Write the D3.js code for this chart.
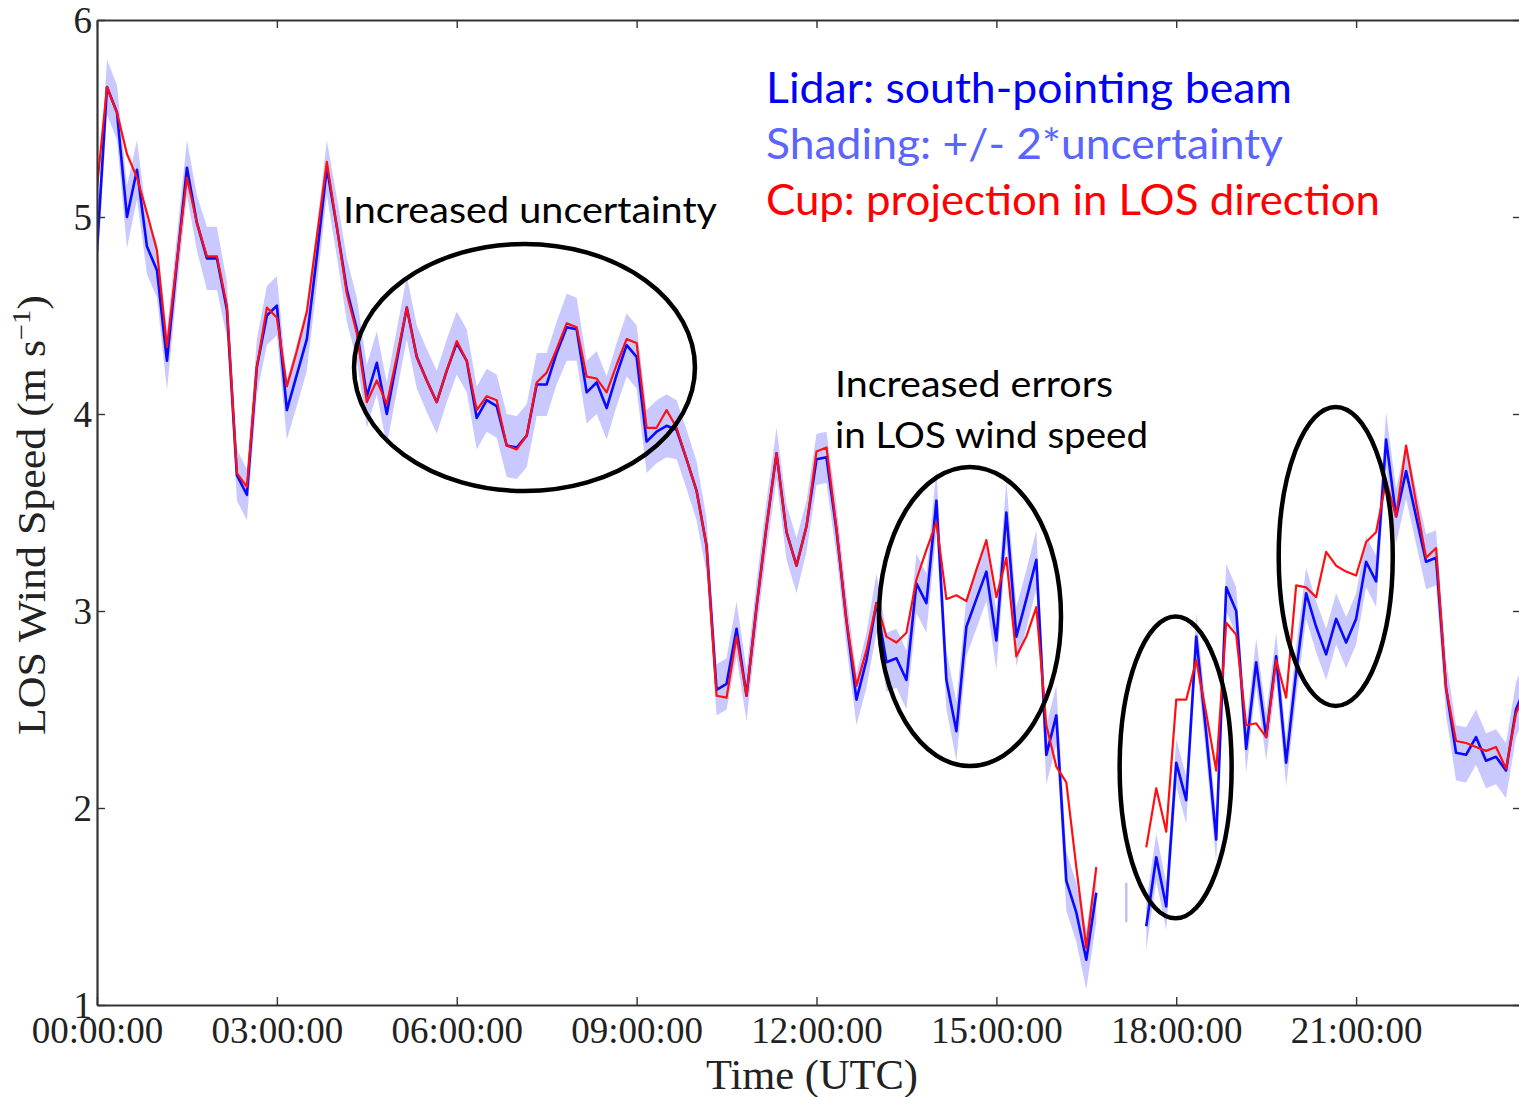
<!DOCTYPE html>
<html><head><meta charset="utf-8">
<script src="https://cdn.jsdelivr.net/npm/d3@7"></script>
<style>body{margin:0;background:#fff;overflow:hidden;} svg{display:block;}</style>
</head><body>
<svg id="chart" width="1519" height="1097"></svg>
<script>
// ---------- data ----------
const startTime = "2016-01-01T00:00:00Z";
const stepMinutes = 10;   // sampling interval of the series
const lidar = [4.83,5.66,5.53,5.00,5.24,4.85,4.73,4.27,4.77,5.25,
 4.97,4.79,4.79,4.53,3.69,3.59,4.24,4.50,4.55,4.02,
 4.20,4.38,4.80,5.25,4.95,4.63,4.43,4.09,4.26,4.00,
 4.27,4.54,4.29,4.17,4.06,4.22,4.36,4.27,3.98,4.07,
 4.04,3.84,3.83,3.89,4.15,4.15,4.31,4.44,4.43,4.11,
 4.16,4.03,4.20,4.35,4.29,3.86,3.91,3.94,3.92,3.77,
 3.61,3.33,2.60,2.63,2.91,2.57,3.02,3.43,3.80,3.40,
 3.23,3.43,3.77,3.78,3.41,2.95,2.55,2.75,3.04,2.74,
 2.76,2.65,3.14,3.04,3.56,2.65,2.39,2.92,3.06,3.20,
 2.85,3.50,2.87,3.06,3.26,2.27,2.47,1.63,1.47,1.23,
 1.57,null,null,1.52,null,1.40,1.75,1.50,2.23,2.04,
 2.87,2.38,1.84,3.12,3.00,2.30,2.74,2.36,2.77,2.23,
 2.69,3.09,2.92,2.78,2.96,2.84,2.96,3.25,3.15,3.87,
 3.48,3.71,3.48,3.25,3.27,2.61,2.28,2.27,2.36,2.24,
 2.26,2.19,2.50,2.62];
const cup = [5.15,5.66,5.53,5.32,5.20,5.02,4.83,4.34,4.78,5.20,
 4.97,4.80,4.80,4.55,3.70,3.63,4.24,4.54,4.49,4.14,
 4.32,4.52,4.90,5.28,4.95,4.61,4.41,4.06,4.17,4.05,
 4.29,4.54,4.29,4.17,4.06,4.22,4.37,4.27,4.02,4.09,
 4.07,3.84,3.82,3.89,4.16,4.21,4.33,4.46,4.44,4.19,
 4.18,4.11,4.25,4.38,4.36,3.93,3.93,4.02,3.93,3.77,
 3.61,3.33,2.57,2.56,2.87,2.57,3.02,3.43,3.80,3.40,
 3.23,3.43,3.81,3.83,3.42,2.95,2.62,2.80,3.04,2.87,
 2.84,2.89,3.16,3.31,3.45,3.06,3.08,3.05,3.21,3.36,
 3.07,3.27,2.77,2.87,3.02,2.42,2.21,2.13,1.70,1.29,
 1.70,null,null,null,null,1.80,2.10,1.88,2.55,2.55,
 2.75,2.48,2.19,2.94,2.88,2.42,2.43,2.36,2.75,2.56,
 3.13,3.12,3.07,3.30,3.23,3.20,3.18,3.35,3.40,3.66,
 3.48,3.84,3.55,3.27,3.32,2.61,2.34,2.33,2.31,2.29,
 2.31,2.20,2.48,2.60];
const uncertainty = [0.07,0.07,0.07,0.08,0.075,0.07,0.07,0.075,0.07,0.07,
 0.07,0.08,0.08,0.07,0.065,0.065,0.07,0.075,0.075,0.075,
 0.08,0.08,0.075,0.07,0.075,0.08,0.08,0.08,0.08,0.08,
 0.08,0.08,0.08,0.08,0.08,0.08,0.08,0.08,0.08,0.08,
 0.08,0.08,0.08,0.08,0.08,0.08,0.08,0.085,0.08,0.08,
 0.08,0.08,0.08,0.08,0.08,0.08,0.08,0.08,0.075,0.075,
 0.075,0.07,0.065,0.065,0.07,0.065,0.065,0.065,0.065,0.07,
 0.07,0.065,0.065,0.065,0.065,0.065,0.065,0.07,0.075,0.075,
 0.075,0.075,0.075,0.075,0.08,0.075,0.075,0.075,0.075,0.075,
 0.075,0.08,0.075,0.075,0.075,0.075,0.075,0.075,0.075,0.075,
 0.075,null,null,0.05,null,0.06,0.06,0.06,0.06,0.06,
 0.06,0.06,0.06,0.06,0.06,0.06,0.06,0.06,0.06,0.06,
 0.065,0.065,0.065,0.065,0.065,0.065,0.065,0.065,0.065,0.07,
 0.07,0.07,0.07,0.07,0.07,0.07,0.07,0.07,0.07,0.07,
 0.07,0.07,0.07,0.07];
const xTickHours = [0, 3, 6, 9, 12, 15, 18, 21];
const xDomainHours = [0, 23.75];
const yDomain = [1, 6];
const yTicks = [1, 2, 3, 4, 5, 6];
const legendLines = ["Lidar: south-pointing beam", "Shading: +/- 2*uncertainty", "Cup: projection in LOS direction"];
const annotationText = ["Increased uncertainty", "Increased errors", "in LOS wind speed"];
// ellipses in data units: centre hour, centre value, radius in hours, radius in m/s
const ellipseCx = [7.13, 14.56, 17.99, 20.66];
const ellipseCy = [4.236, 2.972, 2.206, 3.277];
const ellipseRx = [2.843, 1.518, 0.934, 0.951];
const ellipseRy = [0.627, 0.759, 0.766, 0.759];

// ---------- layout ----------
const L = 97, R = 1521, T = 20, B = 1005;
const t0 = new Date(startTime);
const hour = 3600 * 1000;
const toDate = h => new Date(t0.getTime() + h * hour);
const times = lidar.map((_, i) => new Date(t0.getTime() + i * stepMinutes * 60000));

const x = d3.scaleUtc().domain(xDomainHours.map(toDate)).range([L, R]);
const y = d3.scaleLinear().domain(yDomain).range([B, T]);

const svg = d3.select("#chart");
svg.append("rect").attr("width", 1519).attr("height", 1097).attr("fill", "#fff");

svg.append("defs").append("clipPath").attr("id", "plotclip")
  .append("rect").attr("x", L).attr("y", T).attr("width", R - L).attr("height", B - T);

const rows = times.map((t, i) => ({t, lid: lidar[i], cup: cup[i], u: uncertainty[i]}));

const plot = svg.append("g").attr("clip-path", "url(#plotclip)");

// band
const band = d3.area()
  .defined(d => d.lid != null && d.u != null)
  .x(d => x(d.t))
  .y0(d => y(d.lid - 2 * d.u))
  .y1(d => y(d.lid + 2 * d.u));
plot.append("path").datum(rows).attr("d", band)
  .attr("fill", "#0000ff").attr("fill-opacity", 0.21).attr("stroke", "none");

// isolated samples (no neighbours) drawn as a short vertical shade
const isolated = rows.filter((d, i) => d.lid != null &&
  (i === 0 || rows[i - 1].lid == null) && (i === rows.length - 1 || rows[i + 1].lid == null));
plot.selectAll("line.iso").data(isolated).join("line").attr("class", "iso")
  .attr("x1", d => x(d.t)).attr("x2", d => x(d.t))
  .attr("y1", d => y(d.lid - 2 * d.u)).attr("y2", d => y(d.lid + 2 * d.u))
  .attr("stroke", "#0000ff").attr("stroke-opacity", 0.25).attr("stroke-width", 2.5);

const lidLine = d3.line().defined(d => d.lid != null).x(d => x(d.t)).y(d => y(d.lid));
plot.append("path").datum(rows).attr("d", lidLine)
  .attr("fill", "none").attr("stroke", "#0a0aff").attr("stroke-width", 2.6)
  .attr("stroke-linejoin", "round");

const cupLine = d3.line().defined(d => d.cup != null).x(d => x(d.t)).y(d => y(d.cup));
plot.append("path").datum(rows).attr("d", cupLine)
  .attr("fill", "none").attr("stroke", "#ff1010").attr("stroke-width", 2.2)
  .attr("stroke-linejoin", "round");

// ---------- axes ----------
const axisColor = "#333";
const fmt = d3.utcFormat("%H:%M:%S");
const xTicks = xTickHours.map(toDate);

const gx = svg.append("g").attr("transform", `translate(0,${B})`)
  .call(d3.axisBottom(x).tickValues(xTicks).tickFormat(fmt).tickSizeInner(-8).tickSizeOuter(0).tickPadding(10));
const gxTop = svg.append("g").attr("transform", `translate(0,${T})`)
  .call(d3.axisTop(x).tickValues(xTicks).tickFormat("").tickSizeInner(-8).tickSizeOuter(0));
const gy = svg.append("g").attr("transform", `translate(${L},0)`)
  .call(d3.axisLeft(y).tickValues(yTicks).tickFormat(d3.format("d")).tickSizeInner(-8).tickSizeOuter(0).tickPadding(6));
const gyR = svg.append("g").attr("transform", `translate(${R},0)`)
  .call(d3.axisRight(y).tickValues(yTicks).tickFormat("").tickSizeInner(-8).tickSizeOuter(0));

[gx, gxTop, gy, gyR].forEach(g => {
  g.select(".domain").attr("stroke", axisColor).attr("stroke-width", 2.2);
  g.selectAll(".tick line").attr("stroke", axisColor).attr("stroke-width", 1.4);
  g.selectAll("text").attr("font-family", "'Liberation Serif', 'Times New Roman', serif")
    .attr("font-size", 37).attr("fill", "#222");
});
gx.selectAll(".tick text").attr("y", 38).attr("dy", 0);
gy.selectAll(".tick text").attr("x", -5).attr("dy", "0.34em");

// axis titles
svg.append("text")
  .attr("x", 812).attr("y", 1089).attr("text-anchor", "middle")
  .attr("font-family", "'Liberation Serif', 'Times New Roman', serif")
  .attr("font-size", 42).attr("fill", "#222")
  .attr("textLength", 212).attr("lengthAdjust", "spacingAndGlyphs")
  .text("Time (UTC)");

const yl = svg.append("text")
  .attr("transform", "translate(45,515) rotate(-90)")
  .attr("text-anchor", "middle")
  .attr("font-family", "'Liberation Serif', 'Times New Roman', serif")
  .attr("font-size", 40).attr("fill", "#222")
  .attr("textLength", 440).attr("lengthAdjust", "spacingAndGlyphs");
yl.append("tspan").text("LOS Wind Speed (m s");
yl.append("tspan").attr("font-size", 26).attr("dy", -15).text("\u22121");
yl.append("tspan").attr("dy", 15).text(")");

// ---------- ellipses ----------
svg.selectAll("ellipse.note").data(ellipseCx).join("ellipse").attr("class", "note")
  .attr("cx", (d, i) => x(toDate(ellipseCx[i])))
  .attr("cy", (d, i) => y(ellipseCy[i]))
  .attr("rx", (d, i) => x(toDate(ellipseRx[i])) - x(toDate(0)))
  .attr("ry", (d, i) => y(0) - y(ellipseRy[i]))
  .attr("fill", "none").attr("stroke", "#000").attr("stroke-width", 4.5);

// ---------- annotations & legend ----------
const sans = "Lato, 'Open Sans', sans-serif";
const annPos = [[343, 223, 374], [835, 397, 278], [835, 448, 313]];
annotationText.forEach((s, i) => {
  svg.append("text").attr("x", annPos[i][0]).attr("y", annPos[i][1])
    .attr("font-family", sans).attr("font-size", 37).attr("fill", "#000")
    .attr("textLength", annPos[i][2]).attr("lengthAdjust", "spacingAndGlyphs")
    .text(s);
});
const legColors = ["#0000f5", "#5a64ff", "#ff0000"];
const legPos = [[766, 103, 526], [766, 159, 517], [766, 215, 614]];
legendLines.forEach((s, i) => {
  svg.append("text").attr("x", legPos[i][0]).attr("y", legPos[i][1])
    .attr("font-family", sans).attr("font-size", 42).attr("fill", legColors[i])
    .attr("textLength", legPos[i][2]).attr("lengthAdjust", "spacingAndGlyphs")
    .text(s);
});
</script>
</body></html>
